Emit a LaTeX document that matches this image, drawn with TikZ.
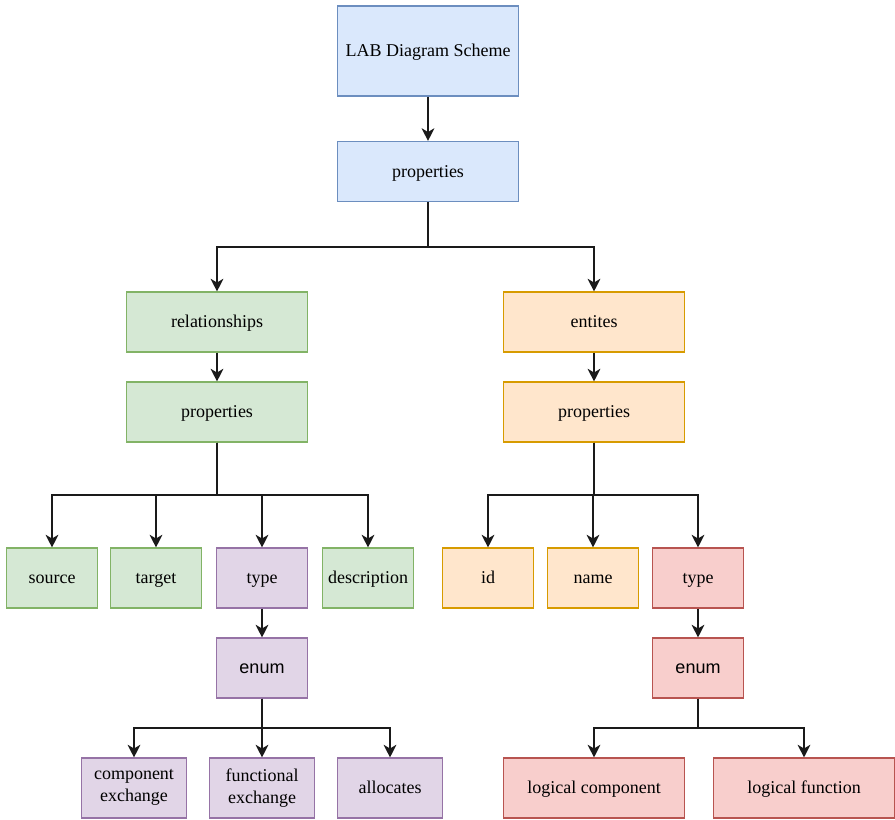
\documentclass[tikz,border=0pt]{standalone}
\usepackage{fontspec}
\setmainfont{Liberation Serif}
\newfontfamily\sansf{Liberation Sans}
\usetikzlibrary{arrows.meta}
\definecolor{bluef}{HTML}{DAE8FC}\definecolor{blued}{HTML}{6C8EBF}
\definecolor{greenf}{HTML}{D5E8D4}\definecolor{greend}{HTML}{82B366}
\definecolor{orangef}{HTML}{FFE6CC}\definecolor{oranged}{HTML}{D79B00}
\definecolor{purplef}{HTML}{E1D5E7}\definecolor{purpled}{HTML}{9673A6}
\definecolor{redf}{HTML}{F8CECC}\definecolor{redd}{HTML}{B85450}
\definecolor{linec}{HTML}{1A1A1A}
\tikzset{
  box/.style={draw, line width=0.8pt, inner sep=0pt, align=center,
    font=\fontsize{13.5}{16.5}\selectfont, minimum height=45pt,
    execute at begin node={\rule[-0.25em]{0pt}{1.15em}}},
  twoline/.style={execute at begin node={\rule[-0.25em]{0pt}{1.5em}}},
  bluebox/.style={box, fill=bluef, draw=blued},
  greenbox/.style={box, fill=greenf, draw=greend},
  orangebox/.style={box, fill=orangef, draw=oranged},
  purplebox/.style={box, fill=purplef, draw=purpled},
  redbox/.style={box, fill=redf, draw=redd},
  wide/.style={minimum width=135.75pt},
  small/.style={minimum width=68pt},
  mid/.style={minimum width=78.75pt},
  arr/.style={draw=linec, line width=1.5pt, -{Stealth[length=9.5pt,width=9.5pt,inset=2.8pt]}}
}
\begin{document}
\begin{tikzpicture}[x=0.75pt,y=-0.75pt]
\useasboundingbox (0,0) rectangle (895,820);
% top
\node[bluebox, wide, minimum height=67.5pt] (lab) at (428,51) {LAB Diagram Scheme};
\node[bluebox, wide] (props) at (428,171.5) {properties};
% level 2
\node[greenbox, wide] (rel) at (217,322) {relationships};
\node[orangebox, wide] (ent) at (594,322) {entites};
\node[greenbox, wide] (rprops) at (217,412) {properties};
\node[orangebox, wide] (eprops) at (594,412) {properties};
% level 3
\node[greenbox, small] (source) at (52,578) {source};
\node[greenbox, small] (target) at (156,578) {target};
\node[purplebox, small] (rtype) at (262,578) {type};
\node[greenbox, small] (desc) at (368,578) {description};
\node[orangebox, small] (id) at (488,578) {id};
\node[orangebox, small] (name) at (593,578) {name};
\node[redbox, small] (etype) at (698,578) {type};
% enums
\node[purplebox, small, font=\sansf\fontsize{13.5}{16.5}\selectfont] (renum) at (262,668) {enum};
\node[redbox, small, font=\sansf\fontsize{13.5}{16.5}\selectfont] (eenum) at (698,668) {enum};
% leaves
\node[purplebox, mid, twoline] (cex) at (134,788) {component\\exchange};
\node[purplebox, mid, twoline] (fex) at (262,788) {functional\\exchange};
\node[purplebox, mid] (alloc) at (390,788) {allocates};
\node[redbox, wide] (lcomp) at (594,788) {logical component};
\node[redbox, wide] (lfunc) at (804,788) {logical function};
% branch points
\coordinate (b1) at (428,247);
\coordinate (b2) at (217,495);
\coordinate (b3) at (594,495);
\coordinate (b4) at (262,728);
\coordinate (b5) at (698,728);
% connectors
\draw[arr] (lab) -- (props);
\draw[arr] (props.south) -- (b1) -| (rel.north);
\draw[arr] (props.south) -- (b1) -| (ent.north);
\draw[arr] (rel) -- (rprops);
\draw[arr] (ent) -- (eprops);
\draw[arr] (rprops.south) -- (b2) -| (source.north);
\draw[arr] (rprops.south) -- (b2) -| (target.north);
\draw[arr] (rprops.south) -- (b2) -| (rtype.north);
\draw[arr] (rprops.south) -- (b2) -| (desc.north);
\draw[arr] (eprops.south) -- (b3) -| (id.north);
\draw[arr] (eprops.south) -- (b3) -| (name.north);
\draw[arr] (eprops.south) -- (b3) -| (etype.north);
\draw[arr] (rtype) -- (renum);
\draw[arr] (etype) -- (eenum);
\draw[arr] (renum.south) -- (b4) -| (cex.north);
\draw[arr] (renum.south) -- (b4) -| (fex.north);
\draw[arr] (renum.south) -- (b4) -| (alloc.north);
\draw[arr] (eenum.south) -- (b5) -| (lcomp.north);
\draw[arr] (eenum.south) -- (b5) -| (lfunc.north);
\end{tikzpicture}
\end{document}
